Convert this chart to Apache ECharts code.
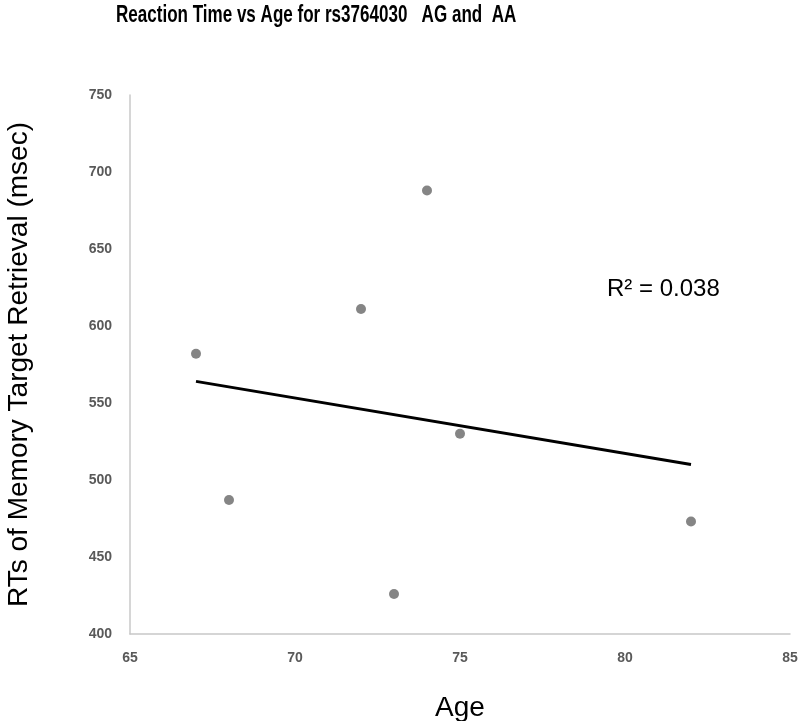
<!DOCTYPE html>
<html>
<head>
<meta charset="utf-8">
<script src="https://cdn.jsdelivr.net/npm/echarts@6/dist/echarts.min.js"></script>
<style>
html,body{margin:0;padding:0;background:#fff;}
#chart{width:800px;height:721px;}
</style>
</head>
<body>
<div id="chart"></div>
<script>
var titleText = 'Reaction Time vs Age for rs3764030   AG and  AA';
var xName = 'Age';
var yName = 'RTs of Memory Target Retrieval (msec)';
var ages = [67, 68, 72, 73, 74, 75, 82];
var rts = [582, 487, 611, 426, 688, 530, 473];
var r2Label = 'R\u00B2 = 0.038';

// linear regression trendline computed from the data
var n = ages.length;
var mx = ages.reduce(function(a,b){return a+b;},0)/n;
var my = rts.reduce(function(a,b){return a+b;},0)/n;
var sxy = 0, sxx = 0;
for (var i = 0; i < n; i++) { sxy += (ages[i]-mx)*(rts[i]-my); sxx += (ages[i]-mx)*(ages[i]-mx); }
var slope = sxy/sxx, icpt = my - slope*mx;
var xMin = Math.min.apply(null, ages), xMax = Math.max.apply(null, ages);
var trend = [[xMin, icpt + slope*xMin], [xMax, icpt + slope*xMax]];

var pts = ages.map(function(a, i){ return [a, rts[i]]; });

var chart = echarts.init(document.getElementById('chart'));
chart.setOption({
  animation: false,
  backgroundColor: '#ffffff',
  grid: { left: 130, right: 10, top: 95, bottom: 87, containLabel: false, outerBoundsMode: 'none' },
  xAxis: {
    type: 'value', min: 65, max: 85, interval: 5,
    name: xName, nameLocation: 'middle', nameGap: 60,
    nameTextStyle: { fontFamily: 'Liberation Sans, Arial', fontSize: 28, color: '#000' },
    axisLine: { show: true, lineStyle: { color: '#c8c8c8', width: 1.5 } },
    axisTick: { show: false },
    splitLine: { show: false },
    axisLabel: { margin: 17, fontFamily: 'Liberation Sans, Arial', fontWeight: 'bold', fontSize: 14, color: '#595959' }
  },
  yAxis: {
    type: 'value', min: 400, max: 750, interval: 50,
    name: yName, nameLocation: 'middle', nameGap: 97, nameRotate: 90,
    nameTextStyle: { fontFamily: 'Liberation Sans, Arial', fontSize: 28, color: '#000' },
    axisLine: { show: true, lineStyle: { color: '#c8c8c8', width: 1.5 } },
    axisTick: { show: false },
    splitLine: { show: false },
    axisLabel: { margin: 18, fontFamily: 'Liberation Sans, Arial', fontWeight: 'bold', fontSize: 14, color: '#595959' }
  },
  series: [
    {
      type: 'line', data: trend, symbol: 'none',
      lineStyle: { color: '#000', width: 3 }, z: 2
    },
    {
      type: 'scatter', data: pts, symbolSize: 10,
      itemStyle: { color: '#666666' }, z: 3
    }
  ],
  graphic: [
    {
      type: 'text', x: 116, y: 3, scaleX: 0.71,
      style: { text: titleText, font: 'bold 24px "Liberation Sans", Arial', fill: '#000' }
    },
    {
      type: 'text', left: 607, top: 277,
      style: { text: r2Label, font: '24px "Liberation Sans", Arial', fill: '#000' }
    }
  ]
});
</script>
</body>
</html>
